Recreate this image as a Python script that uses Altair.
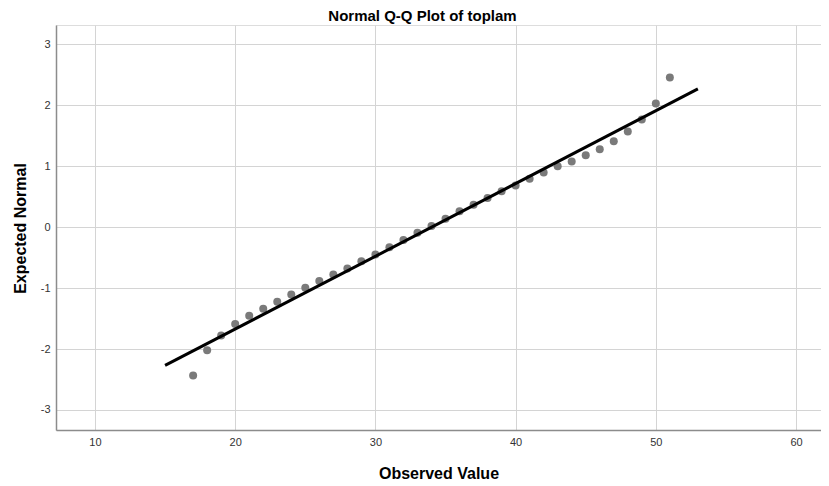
import altair as alt
import pandas as pd

observed = list(range(17, 52))
expected = [-2.435, -2.02, -1.78, -1.59, -1.455, -1.34, -1.225, -1.105, -0.995, -0.885,
            -0.777, -0.678, -0.558, -0.448, -0.328, -0.21, -0.09, 0.02, 0.14, 0.26,
            0.37, 0.48, 0.59, 0.685, 0.795, 0.90, 1.00, 1.08, 1.18, 1.28,
            1.41, 1.57, 1.77, 2.03, 2.46]
line_x = [15, 53]
line_y = [-2.27, 2.27]

pts = pd.DataFrame({"obs": observed, "exp": expected})
ln = pd.DataFrame({"obs": line_x, "exp": line_y})

xscale = alt.Scale(domain=[7.22, 61.78], nice=False, zero=False)
yscale = alt.Scale(domain=[-3.33, 3.32], nice=False, zero=False)

label_expr = "datum.value < 0 ? '-' + abs(datum.value) : '' + datum.value"

xaxis = alt.Axis(values=[10, 20, 30, 40, 50, 60], labelExpr=label_expr, title="Observed Value", ticks=False,
                 labelFontSize=11, labelColor="#333333", labelFont="Liberation Sans",
                 labelPadding=6, titleFontSize=16, titleFont="Liberation Sans",
                 titleFontWeight="bold", titleColor="#000000", titleY=48,
                 titleBaseline="alphabetic", gridColor="#d4d4d4", gridWidth=1,
                 domainColor="#8c8c8c", domainWidth=1.5)
yaxis = alt.Axis(values=[-3, -2, -1, 0, 1, 2, 3], labelExpr=label_expr, title="Expected Normal", ticks=False,
                 labelFontSize=11, labelColor="#333333", labelFont="Liberation Sans",
                 labelPadding=6, titleFontSize=16, titleFont="Liberation Sans",
                 titleFontWeight="bold", titleColor="#000000", titleX=-31, titleY=203,
                 titleBaseline="alphabetic", titleAngle=270,
                 gridColor="#d4d4d4", gridWidth=1,
                 domainColor="#8c8c8c", domainWidth=1.5)

points = alt.Chart(pts).mark_circle(size=64, color="#7a7a7a", opacity=1).encode(
    x=alt.X("obs:Q", scale=xscale, axis=xaxis),
    y=alt.Y("exp:Q", scale=yscale, axis=yaxis),
)
line = alt.Chart(ln).mark_line(color="#000000", strokeWidth=3).encode(
    x=alt.X("obs:Q", scale=xscale),
    y=alt.Y("exp:Q", scale=yscale),
)

chart = alt.layer(points, line).properties(
    width=765, height=405,
    title=alt.Title("Normal Q-Q Plot of toplam", fontSize=15, font="Liberation Sans",
                    fontWeight="bold", color="#000000", anchor="middle", dx=-16, dy=11,
                    baseline="alphabetic", offset=0),
    autosize=alt.AutoSizeParams(type="none"),
    padding={"left": 48, "top": 17, "right": 0, "bottom": 60},
).configure_view(stroke=None).configure(background="#ffffff")

chart.save("out.html", embed_options={"renderer": "svg", "actions": False})
